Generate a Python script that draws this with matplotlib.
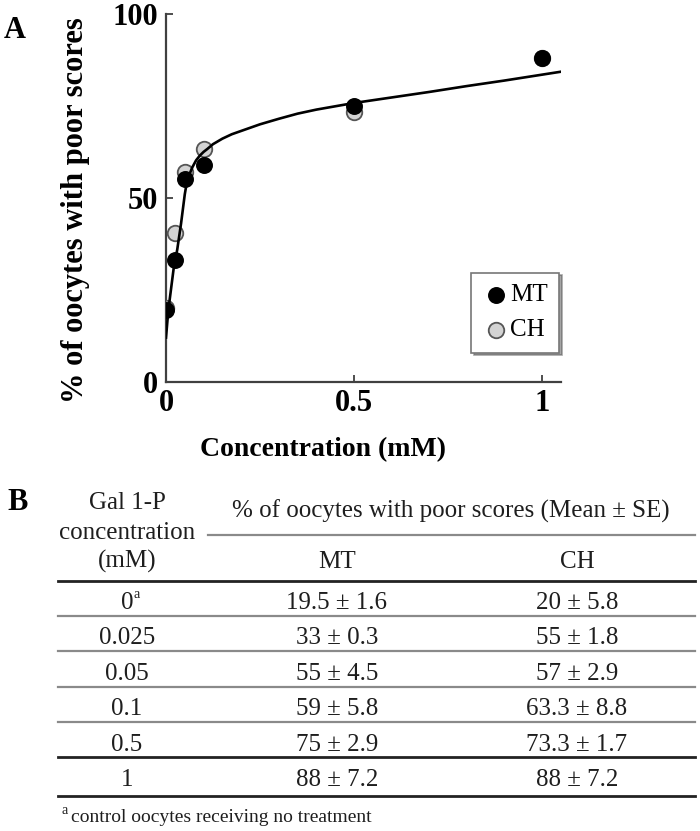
import matplotlib
matplotlib.use("Agg")
import matplotlib.pyplot as plt
from matplotlib.lines import Line2D

# datos de la figura A
conc = [0, 0.025, 0.05, 0.1, 0.5, 1]
mt_vals = [19.5, 33, 55, 59, 75, 88]
ch_vals = [20, 40.5, 57, 63.3, 73.3, 88]

# curva ajustada, puntos
fit_x = [0, 0.005, 0.01, 0.02, 0.03, 0.04, 0.05, 0.055, 0.06, 0.07, 0.08, 0.09, 0.1, 0.11,
         0.125, 0.15, 0.175, 0.2, 0.25, 0.3, 0.35, 0.4, 0.5, 0.6, 0.7, 0.8, 0.9, 1.0, 1.05]
fit_y = [12, 18, 22.5, 30.5, 36, 43, 51, 54, 55.8, 58.3, 60.2, 61.5, 62.5, 63.3,
         64.6, 66.1, 67.3, 68.2, 70.0, 71.5, 72.9, 74.0, 75.8, 77.3, 78.8, 80.4, 81.9, 83.5, 84.3]

# datos de la tabla B
conc_labels = ["0", "0.025", "0.05", "0.1", "0.5", "1"]
mt_table = ["19.5 ± 1.6", "33 ± 0.3", "55 ± 4.5", "59 ± 5.8", "75 ± 2.9", "88 ± 7.2"]
ch_table = ["20 ± 5.8", "55 ± 1.8", "57 ± 2.9", "63.3 ± 8.8", "73.3 ± 1.7", "88 ± 7.2"]

W, H = 700, 831
serif = "Liberation Serif"
plt.rcParams["font.family"] = serif

fig = plt.figure(figsize=(W / 100, H / 100), dpi=100)


def fx(x):
    return x / W


def fy(y):
    return 1 - y / H


# ---- panel A ----
ax = fig.add_axes([fx(166), fy(381.7), (560.8 - 166) / W, (381.7 - 14) / H])
ax.scatter(conc, ch_vals, s=125, color="#d3d3d3", edgecolor="#555555", linewidth=1.3,
           zorder=3, label="CH")
ax.scatter(conc, mt_vals, s=125, color="black", edgecolor="black", linewidth=1,
           zorder=4, label="MT")
ax.plot(fit_x, fit_y, color="black", linewidth=1.9, zorder=5)

ax.set_xlim(0, 1.05)
ax.set_ylim(0, 100)
ax.set_xticks([0, 0.5, 1])
ax.set_xticklabels(["0", "0.5", "1"])
ax.set_yticks([0, 50, 100])
for s in ["top", "right"]:
    ax.spines[s].set_visible(False)
for s in ["left", "bottom"]:
    ax.spines[s].set_color("#404040")
    ax.spines[s].set_linewidth(1.6)
ax.tick_params(direction="in", length=5, width=1.3, color="#404040")
ax.tick_params(axis="x", pad=5)
ax.tick_params(axis="y", pad=6)
for lab in ax.get_xticklabels() + ax.get_yticklabels():
    lab.set_fontsize(22)
    lab.set_fontweight("bold")

handles, labels = ax.get_legend_handles_labels()
leg = ax.legend(handles[::-1], labels[::-1], loc="lower right", bbox_to_anchor=(0.996, 0.079),
                fontsize=18, frameon=True, fancybox=False, shadow=True, handletextpad=0.0,
                borderpad=0.45, labelspacing=0.5, handlelength=1.1, borderaxespad=0)
leg.get_frame().set_edgecolor("#777777")
leg.get_frame().set_linewidth(1.2)

fig.text(fx(323), fy(450), "Concentration (mM)", fontsize=20, fontweight="bold",
         ha="center", va="center")
fig.text(fx(76), fy(210), "% of oocytes with poor scores", fontsize=22, fontweight="bold",
         ha="center", va="center", rotation=90)
fig.text(fx(15), fy(30), "A", fontsize=22, fontweight="bold", ha="center", va="center")

# ---- panel B (tabla) ----
txt = "#1e1e1e"
fs = 18
fig.text(fx(18), fy(503), "B", fontsize=22, fontweight="bold", ha="center", va="center")
fig.text(fx(127), fy(509), "Gal 1-P", fontsize=fs, ha="center", va="baseline", color=txt)
fig.text(fx(127), fy(539), "concentration", fontsize=fs, ha="center", va="baseline", color=txt)
fig.text(fx(127), fy(568), "(mM)", fontsize=fs, ha="center", va="baseline", color=txt)
fig.text(fx(451), fy(518), "% of oocytes with poor scores (Mean ± SE)", fontsize=fs,
         ha="center", va="baseline", color=txt)
fig.text(fx(337), fy(568), "MT", fontsize=fs, ha="center", va="baseline", color=txt)
fig.text(fx(577), fy(568), "CH", fontsize=fs, ha="center", va="baseline", color=txt)


def hline(y, x0, x1, color, lw):
    fig.add_artist(Line2D([fx(x0), fx(x1)], [fy(y), fy(y)], transform=fig.transFigure,
                          color=color, linewidth=lw))


hline(535, 208, 695, "#8a8a8a", 1.6)
hline(581, 58, 695, "#222222", 2.0)

row_step = 35.4
for i in range(len(conc_labels)):
    base = 609 + i * row_step
    lab = conc_labels[i]
    fig.text(fx(127), fy(base), lab, fontsize=fs, ha="center", va="baseline", color=txt)
    if i == 0:
        fig.text(fx(133), fy(base - 11), "a", fontsize=10, ha="left", va="baseline", color=txt)
    fig.text(fx(337), fy(base), mt_table[i], fontsize=fs, ha="center", va="baseline", color=txt)
    fig.text(fx(577), fy(base), ch_table[i], fontsize=fs, ha="center", va="baseline", color=txt)
    line_y = 616 + i * row_step
    if i < 4:
        hline(line_y, 58, 695, "#8a8a8a", 1.6)
    elif i == 4:
        hline(757, 58, 695, "#222222", 2.0)
hline(796, 58, 695, "#222222", 2.0)

fig.text(fx(62), fy(814), "a", fontsize=10, ha="left", va="baseline", color=txt)
fig.text(fx(71), fy(822), "control oocytes receiving no treatment", fontsize=14,
         ha="left", va="baseline", color=txt)

plt.savefig("out.png", dpi=100)
